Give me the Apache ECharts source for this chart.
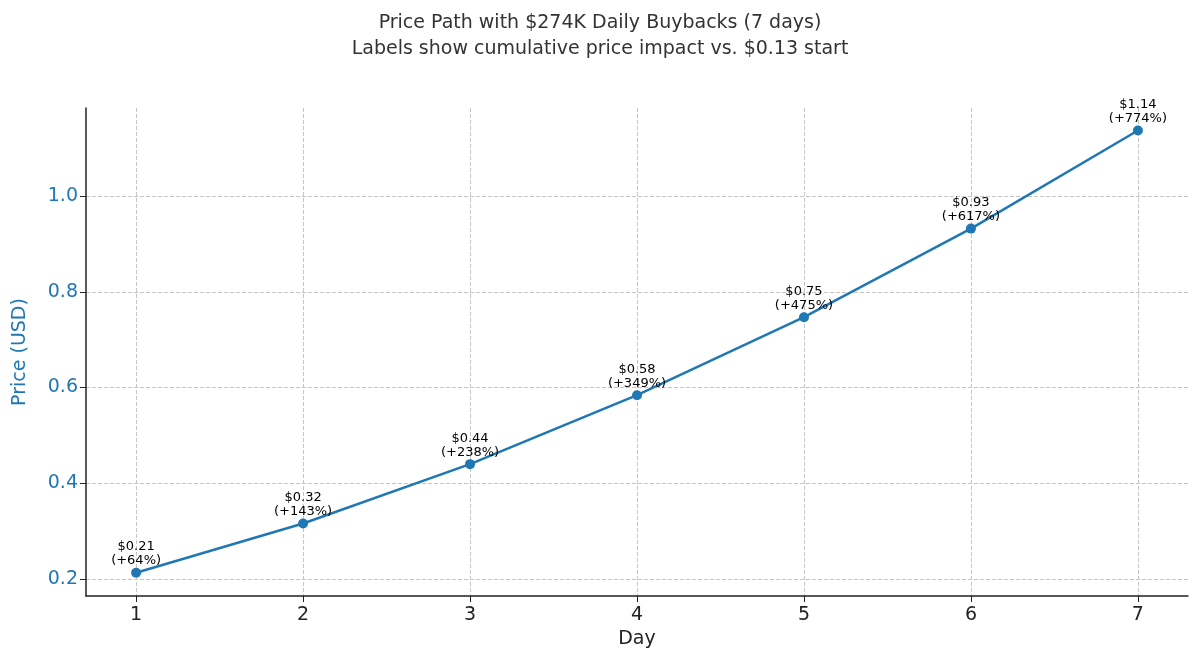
<!DOCTYPE html>
<html>
<head>
<meta charset="utf-8"/>
<script src="https://cdn.jsdelivr.net/npm/echarts@6/dist/echarts.min.js"></script>
</head>
<body style="margin:0">
<div id="main" style="width:1200px;height:668px"></div>
<script>
var days = [1, 2, 3, 4, 5, 6, 7];
var prices = [0.213, 0.316, 0.440, 0.584, 0.747, 0.932, 1.137];
var priceLabels = ['$0.21', '$0.32', '$0.44', '$0.58', '$0.75', '$0.93', '$1.14'];
var pctLabels = ['+64%', '+143%', '+238%', '+349%', '+475%', '+617%', '+774%'];
var yTicks = [0.2, 0.4, 0.6, 0.8, 1.0];

var chart = echarts.init(document.getElementById('main'));
var font = 'DejaVu Sans';
chart.setOption({
    animation: false,
    textStyle: {fontFamily: font},
    title: {
        text: 'Price Path with $274K Daily Buybacks (7 days)\nLabels show cumulative price impact vs. $0.13 start',
        left: 'center', top: 5,
        textStyle: {fontSize: 19, fontWeight: 'normal', color: '#333', lineHeight: 26, fontFamily: font}
    },
    grid: {left: 86, right: 12, top: 108, bottom: 72},
    xAxis: {
        type: 'value', min: 0.7, max: 7.3,
        name: 'Day', nameLocation: 'middle', nameGap: 34,
        nameTextStyle: {fontSize: 19, color: '#222'},
        axisLine: {lineStyle: {color: '#222', width: 1.5}},
        axisTick: {customValues: days, length: 6, lineStyle: {color: '#222'}},
        axisLabel: {customValues: days, fontSize: 19, color: '#222', margin: 10},
        splitLine: {show: true, lineStyle: {type: 'dashed', color: '#c4c4c4'}}
    },
    yAxis: {
        type: 'value', min: 0.1645, max: 1.184,
        name: 'Price (USD)', nameLocation: 'middle', nameGap: 56,
        nameTextStyle: {fontSize: 19, color: '#1f77b4'},
        axisLine: {show: true, lineStyle: {color: '#222', width: 1.5}},
        axisTick: {show: true, customValues: yTicks, length: 6, lineStyle: {color: '#222'}},
        axisLabel: {customValues: yTicks, fontSize: 19, color: '#1f77b4',
            formatter: function (v) { return v.toFixed(1); }},
        splitLine: {show: true, lineStyle: {type: 'dashed', color: '#c4c4c4'}}
    },
    series: [{
        type: 'line',
        data: days.map(function (d, i) { return [d, prices[i]]; }),
        symbol: 'circle', symbolSize: 10,
        itemStyle: {color: '#1f77b4'},
        lineStyle: {color: '#1f77b4', width: 2.5},
        label: {
            show: true, position: 'top', distance: 0,
            fontSize: 13, color: '#000', lineHeight: 14, align: 'center',
            formatter: function (p) {
                return priceLabels[p.dataIndex] + '\n(' + pctLabels[p.dataIndex] + ')';
            }
        }
    }]
});
</script>
</body>
</html>
